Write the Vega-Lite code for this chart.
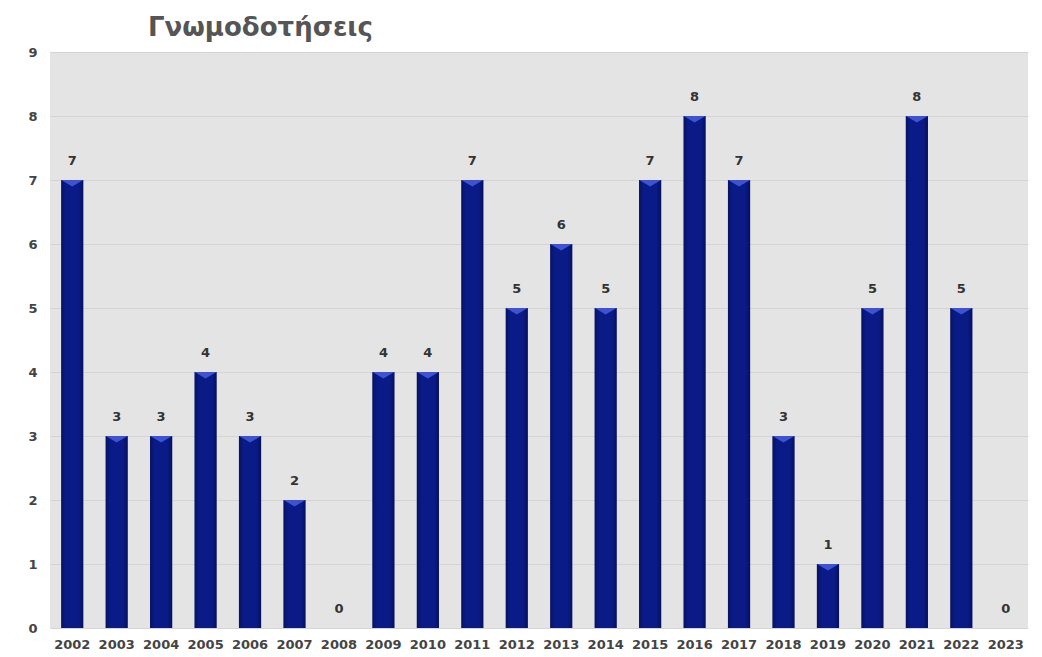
{
  "$schema": "https://vega.github.io/schema/vega-lite/v6.json",
  "autosize": "none",
  "width": 978,
  "height": 576,
  "padding": {"left": 50, "top": 52, "right": 14, "bottom": 29},
  "background": "#ffffff",
  "config": {
    "view": {"fill": "#e4e4e4", "stroke": null},
    "font": "DejaVu Sans"
  },
  "title": {
    "text": "Γνωμοδοτήσεις",
    "anchor": "start",
    "dx": 120,
    "offset": 5,
    "font": "DejaVu Sans",
    "fontSize": 26,
    "fontWeight": "bold",
    "color": "#555555"
  },
  "data": {
    "values": [
      {"year": "2002", "count": 7},
      {"year": "2003", "count": 3},
      {"year": "2004", "count": 3},
      {"year": "2005", "count": 4},
      {"year": "2006", "count": 3},
      {"year": "2007", "count": 2},
      {"year": "2008", "count": 0},
      {"year": "2009", "count": 4},
      {"year": "2010", "count": 4},
      {"year": "2011", "count": 7},
      {"year": "2012", "count": 5},
      {"year": "2013", "count": 6},
      {"year": "2014", "count": 5},
      {"year": "2015", "count": 7},
      {"year": "2016", "count": 8},
      {"year": "2017", "count": 7},
      {"year": "2018", "count": 3},
      {"year": "2019", "count": 1},
      {"year": "2020", "count": 5},
      {"year": "2021", "count": 8},
      {"year": "2022", "count": 5},
      {"year": "2023", "count": 0}
    ]
  },
  "encoding": {
    "x": {
      "field": "year",
      "type": "nominal",
      "sort": null,
      "scale": {"paddingInner": 0.5, "paddingOuter": 0.25},
      "axis": {
        "title": null,
        "labelAngle": 0,
        "domain": false,
        "ticks": false,
        "labelPadding": 10,
        "labelFont": "DejaVu Sans",
        "labelFontSize": 13,
        "labelFontWeight": "bold",
        "labelColor": "#444444"
      }
    },
    "y": {
      "field": "count",
      "type": "quantitative",
      "scale": {"domain": [0, 9], "nice": false},
      "axis": {
        "title": null,
        "values": [0, 1, 2, 3, 4, 5, 6, 7, 8, 9],
        "domain": false,
        "ticks": false,
        "labelPadding": 13,
        "labelFont": "DejaVu Sans",
        "labelFontSize": 13,
        "labelFontWeight": "bold",
        "labelColor": "#444444",
        "gridColor": "#d4d4d4",
        "gridWidth": 1
      }
    }
  },
  "layer": [
    {
      "mark": {
        "type": "bar",
        "color": {
          "gradient": "linear",
          "x1": 0, "x2": 1, "y1": 0, "y2": 0,
          "stops": [
            {"offset": 0, "color": "#071262"},
            {"offset": 0.2, "color": "#0a1a86"},
            {"offset": 0.8, "color": "#0a1a86"},
            {"offset": 1, "color": "#06105a"}
          ]
        }
      }
    },
    {
      "transform": [{"filter": "datum.count > 0"}],
      "mark": {
        "type": "point",
        "shape": "M-1,0L1,0L0,0.6Z",
        "size": 484,
        "filled": true,
        "color": "#3f52d0",
        "opacity": 1
      }
    },
    {
      "mark": {
        "type": "text",
        "dy": -19,
        "font": "DejaVu Sans",
        "fontSize": 13,
        "fontWeight": "bold",
        "color": "#333333"
      },
      "encoding": {"text": {"field": "count", "type": "quantitative"}}
    }
  ]
}
